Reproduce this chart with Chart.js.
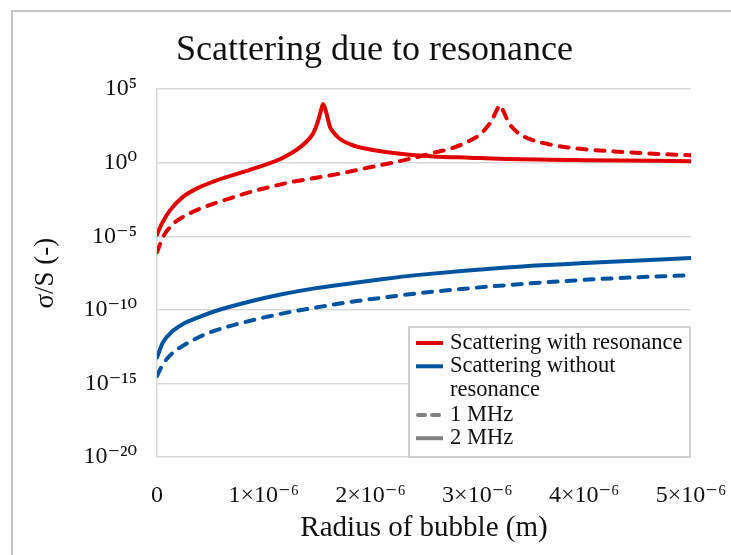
<!DOCTYPE html>
<html>
<head>
<meta charset="utf-8">
<script src="https://cdn.jsdelivr.net/npm/chart.js@4.4.1/dist/chart.umd.min.js"></script>
<style>
  html, body { margin: 0; padding: 0; background: #fff; overflow: hidden; }
  #wrap { position: relative; width: 731px; height: 555px; }
  #frame { position: absolute; left: 11px; top: 10px; width: 800px; height: 700px;
           border-left: 2px solid #c3c3c3; border-top: 2px solid #c3c3c3; }
  #c { position: absolute; left: 0; top: 0; }
</style>
</head>
<body>
<div id="wrap">
  <div id="frame"></div>
  <canvas id="c" width="731" height="555"></canvas>
</div>
<script>
const FONT = "'Liberation Serif', 'DejaVu Serif', serif";

// Bubble radius in micrometres, normalised scattering cross-section sigma/S
const radiusRes2MHz = [0, 0.05, 0.12, 0.24, 0.40, 0.556, 0.87, 1.18, 1.34, 1.46, 1.51, 1.54, 1.556,
                       1.587, 1.62, 1.65, 1.71, 1.81, 1.96, 2.275, 2.59, 2.93, 3.21, 4.0, 5.0];
const sigmaRes2MHz  = [1.3e-5, 8.5e-5, 5.6e-4, 4.6e-3, 2.2e-2, 6.3e-2, 0.33, 2.2, 11.5, 93, 760, 4800, 1.0e4,
                       2200, 270, 123, 43, 17.8, 8.9, 4.1, 2.7, 2.2, 1.86, 1.5, 1.29];

const radiusRes1MHz = [0, 0.055, 0.15, 0.24, 0.40, 0.556, 0.87, 1.18, 1.34, 1.65, 1.96, 2.275, 2.46, 2.59,
                       2.745, 2.9, 3.03, 3.09, 3.135, 3.18, 3.21, 3.24, 3.29, 3.37, 3.46, 3.65, 3.96,
                       4.28, 4.65, 5.0];
const sigmaRes1MHz  = [8.1e-7, 8.5e-6, 6.9e-5, 2.0e-4, 7.4e-4, 1.9e-3, 1.0e-2, 3.7e-2, 6.3e-2, 0.15, 0.44,
                       1.3, 2.7, 4.8, 8.9, 25, 89, 270, 760, 3600, 7900, 3600, 590, 123, 50, 19.5, 8.9,
                       5.9, 4.1, 3.2];

const radiusNoRes   = [0, 0.055, 0.15, 0.24, 0.40, 0.556, 0.87, 1.18, 1.49, 1.81, 2.12, 2.43, 3.21, 4.15, 5.0];
const sigmaNoRes2MHz = [5.8e-14, 6.0e-13, 3.8e-12, 1.07e-11, 3.4e-11, 8.7e-11, 3.7e-10, 1.2e-9, 3.0e-9,
                        6.3e-9, 1.26e-8, 2.3e-8, 7.1e-8, 1.7e-7, 3.4e-7];
const sigmaNoRes1MHz = [3.2e-15, 2.0e-14, 1.26e-13, 3.5e-13, 1.5e-12, 4.2e-12, 1.8e-11, 5.8e-11, 1.45e-10,
                        3.5e-10, 6.9e-10, 1.3e-9, 4.4e-9, 1.26e-8, 2.3e-8];

// Axis ticks
const xTickValues = [0, 1e-6, 2e-6, 3e-6, 4e-6, 5e-6];
const xTickLabels = ['0', '1×10⁻⁶', '2×10⁻⁶', '3×10⁻⁶', '4×10⁻⁶', '5×10⁻⁶'];
const yTickValues = [1e-20, 1e-15, 1e-10, 1e-5, 1, 1e5];
const yTickLabels = ['10⁻²⁰', '10⁻¹⁵', '10⁻¹⁰', '10⁻⁵', '10⁰', '10⁵'];

// Legend entries
const legendLabels = [['Scattering with resonance'], ['Scattering without', 'resonance'], ['1 MHz'], ['2 MHz']];
const legendColors = ['#e00000', '#00549f', '#808080', '#808080'];
const legendDashed = [false, false, true, false];

const RED = '#e00000';
const BLUE = '#00549f';
const DASH = [9, 9];

function points(radii, sigmas) {
  return radii.map((r, i) => ({ x: r * 1e-6, y: sigmas[i] }));
}

function series(label, radii, sigmas, color, dashed) {
  return {
    label,
    data: points(radii, sigmas),
    borderColor: color,
    backgroundColor: color,
    borderWidth: 4,
    borderDash: dashed ? DASH : [],
    borderCapStyle: 'round',
    borderJoinStyle: 'round',
    pointRadius: 0,
    fill: false,
    cubicInterpolationMode: 'monotone'
  };
}

const legendBox = {
  id: 'legendBox',
  afterDatasetsDraw(chart) {
    const ctx = chart.ctx;
    const left = 409, top = 327, right = 690, bottom = 457;
    ctx.save();
    ctx.fillStyle = '#ffffff';
    ctx.fillRect(left, top, right - left, bottom - top);
    ctx.strokeStyle = '#c3c3c3';
    ctx.lineWidth = 1.5;
    ctx.strokeRect(left, top, right - left, bottom - top);
    ctx.font = '22.5px ' + FONT;
    ctx.textBaseline = 'middle';
    ctx.textAlign = 'left';
    let y = 343;
    const rowStep = 23.3;
    legendLabels.forEach((lines, i) => {
      ctx.beginPath();
      ctx.strokeStyle = legendColors[i];
      ctx.lineWidth = 4;
      ctx.lineCap = legendDashed[i] ? 'round' : 'butt';
      ctx.setLineDash(legendDashed[i] ? [7, 7] : []);
      ctx.moveTo(legendDashed[i] ? 418 : 416, y);
      ctx.lineTo(legendDashed[i] ? 441 : 443, y);
      ctx.stroke();
      ctx.setLineDash([]);
      ctx.fillStyle = '#111';
      lines.forEach((t, k) => ctx.fillText(t, 450, y + k * rowStep));
      y += rowStep * (lines.length) + (lines.length > 1 ? 2 : 0);
    });
    ctx.restore();
  }
};

new Chart(document.getElementById('c'), {
  type: 'line',
  data: {
    datasets: [
      series('Scattering with resonance, 1 MHz', radiusRes1MHz, sigmaRes1MHz, RED, true),
      series('Scattering with resonance, 2 MHz', radiusRes2MHz, sigmaRes2MHz, RED, false),
      series('Scattering without resonance, 1 MHz', radiusNoRes, sigmaNoRes1MHz, BLUE, true),
      series('Scattering without resonance, 2 MHz', radiusNoRes, sigmaNoRes2MHz, BLUE, false)
    ]
  },
  options: {
    responsive: false,
    animation: false,
    devicePixelRatio: 1,
    layout: { padding: { left: 18, right: 0, top: 0, bottom: 0 } },
    plugins: {
      legend: { display: false },
      tooltip: { enabled: false },
      title: {
        display: true,
        text: 'Scattering due to resonance',
        color: '#111',
        font: { family: FONT, size: 36, weight: 'normal' },
        padding: { top: 29, bottom: 17 }
      }
    },
    scales: {
      x: {
        type: 'linear',
        min: 0,
        max: 5e-6,
        afterBuildTicks(scale) { scale.ticks = xTickValues.map(v => ({ value: v })); },
        afterFit(scale) {
          scale.height = 98;
          scale.paddingLeft = 0;
          scale.paddingRight = 40;
        },
        ticks: {
          color: '#111',
          font: { family: FONT, size: 24 },
          padding: 24,
          maxRotation: 0,
          autoSkip: false,
          callback(value) {
            const i = xTickValues.findIndex(v => Math.abs(v - value) < 1e-12);
            return i >= 0 ? xTickLabels[i] : '';
          }
        },
        grid: { display: false, drawTicks: false },
        border: { display: false },
        title: {
          display: true,
          text: 'Radius of bubble (m)',
          color: '#111',
          font: { family: FONT, size: 29 },
          padding: { top: 0, bottom: 9 }
        }
      },
      y: {
        type: 'logarithmic',
        min: 1e-20,
        max: 1e5,
        afterBuildTicks(scale) { scale.ticks = yTickValues.map(v => ({ value: v })); },
        afterFit(scale) { scale.width = 139; },
        ticks: {
          color: '#111',
          font: { family: FONT, size: 24 },
          padding: 20,
          autoSkip: false,
          callback(value) {
            const i = yTickValues.findIndex(v => Math.abs(Math.log10(v) - Math.log10(value)) < 1e-6);
            return i >= 0 ? yTickLabels[i] : '';
          }
        },
        grid: { color: '#d9d9d9', lineWidth: 1.5, drawTicks: false },
        border: { display: true, color: '#d9d9d9', width: 1.5 },
        title: {
          display: true,
          text: 'σ/S (-)',
          color: '#111',
          font: { family: FONT, size: 27 },
          padding: { top: 12, bottom: 0 }
        }
      }
    }
  },
  plugins: [legendBox]
});
</script>
</body>
</html>
